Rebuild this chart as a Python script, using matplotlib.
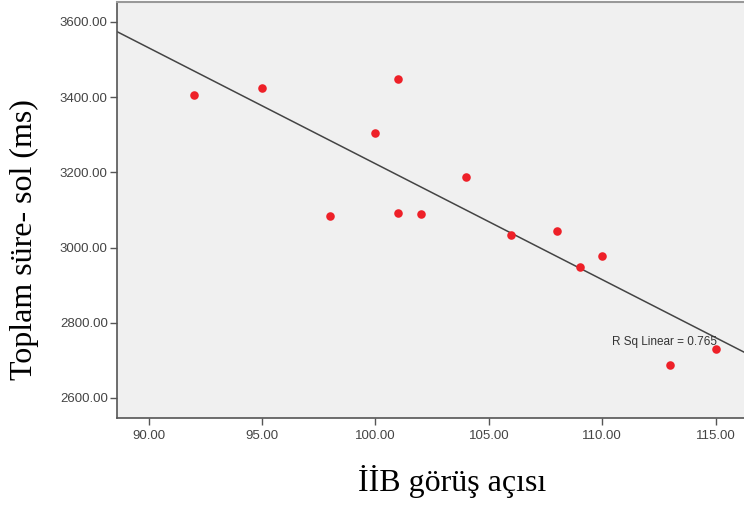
import numpy as np
import matplotlib.pyplot as plt

# data
aci = [92, 95, 98, 100, 101, 101, 102, 104, 106, 108, 109, 110, 113, 115]
sure = [3405, 3425, 3085, 3305, 3448, 3093, 3088, 3188, 3033, 3043, 2948, 2978, 2688, 2730]
xticks = [90, 95, 100, 105, 110, 115]
yticks = [2600, 2800, 3000, 3200, 3400, 3600]

fig = plt.figure(figsize=(7.44, 5.09), dpi=100)
ax = fig.add_axes([0.157, 0.179, 0.843, 0.817])
ax.set_facecolor('#f0f0f0')

xlim = (88.6, 116.25)
ax.set_xlim(xlim)
ax.set_ylim(2547, 3653)

# linear fit line
k, b = np.polyfit(aci, sure, 1)
xs = np.array(xlim)
ax.plot(xs, k * xs + b, color='#444444', lw=1.1, zorder=2)

ax.scatter(aci, sure, s=38, color='#ee2028', zorder=3, linewidths=0)

ax.text(112.75, 2749, 'R Sq Linear = 0.765', fontsize=8.5, color='#333333',
        ha='center', va='center', family='Liberation Sans', zorder=4)

ax.set_xticks(xticks)
ax.set_xticklabels([f'{v:.2f}' for v in xticks])
ax.set_yticks(yticks)
ax.set_yticklabels([f'{v:.2f}' for v in yticks])
ax.tick_params(direction='out', length=5, width=1, color='#555555',
               labelsize=9.5, labelcolor='#444444')
ax.tick_params(axis='y', pad=1.5)
ax.tick_params(axis='x', pad=4)
for lab in ax.get_xticklabels() + ax.get_yticklabels():
    lab.set_family('Liberation Sans')

for side in ['left', 'bottom']:
    ax.spines[side].set_color('#555555')
    ax.spines[side].set_linewidth(1.2)
ax.spines['top'].set_color('#999999')
ax.spines['top'].set_linewidth(1.5)
ax.spines['right'].set_visible(False)

ax.set_xlabel('İİB görüş açısı', family='Liberation Serif', fontsize=23, va='center')
ax.xaxis.set_label_coords(0.534, -0.153)
ax.set_ylabel('Toplam süre- sol (ms)', family='Liberation Serif', fontsize=23, va='center')
ax.yaxis.set_label_coords(-0.148, 0.428)

fig.savefig('out.png', dpi=100)
